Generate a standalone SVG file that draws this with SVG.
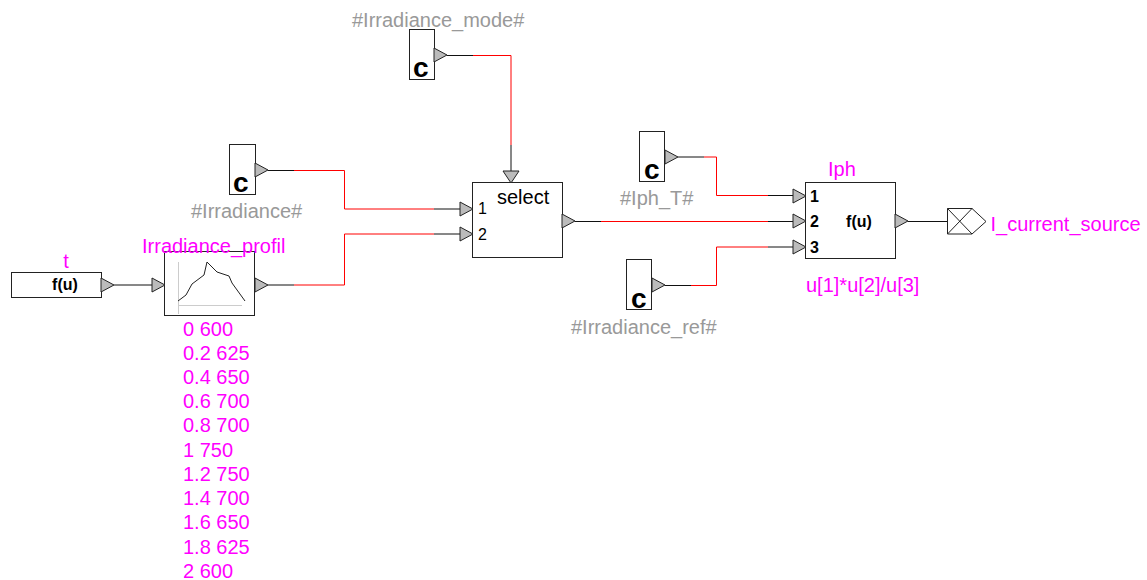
<svg xmlns="http://www.w3.org/2000/svg" width="1147" height="580" viewBox="0 0 1147 580">
<style>
text{font-family:"Liberation Sans",Arial,sans-serif}
.l{font-size:20px;fill:#ff00ff}
.g{font-size:20px;fill:#999999}
.c{font-size:28px;font-weight:bold;fill:#000}
.f{font-size:16px;font-weight:bold;fill:#000}
.n{font-size:16px;fill:#000}
.nb{font-size:16px;font-weight:bold;fill:#000}
.b{fill:#fff;stroke:#222;stroke-width:1}
.p{fill:#bbb;stroke:#222;stroke-width:1}
.k{fill:none;stroke:#111;stroke-width:1}
.r{fill:none;stroke:#f00;stroke-width:1}
</style>
<defs>
<polygon id="pr" class="p" points="0,-7 13,0 0,7"/>
<polygon id="pd" class="p" points="-8,0 8,0 0,12"/>
</defs>
<g id="connectors">
<path class="k" d="M268 170.500H294M434 209H460M268 285H294M434 234H460M114 285H152M447 55.500H473M511 145V171M575 221.500H601M768 221.500H793M678 157H704M768 195.500H793M665 285.500H691M768 247H793M908 221.500H947"/>
<path class="r" d="M294 170.500H344.500V209H434M294 285H344.500V234H434M473 55.500H511V145M601 221.500H768M704 157H716.500V195.500H768M691 285.500H716.500V247H768"/>
</g>
<g id="irradiance-mode">
<rect class="b" x="409.500" y="29.500" width="25" height="50"/>
<use href="#pr" x="434" y="55"/>
<text class="c" x="413" y="77">c</text>
<text class="g" x="352" y="27">#Irradiance_mode#</text>
</g>
<g id="irradiance">
<rect class="b" x="229.500" y="144.500" width="26" height="50"/>
<use href="#pr" x="255" y="170"/>
<text class="c" x="233" y="192">c</text>
<text class="g" x="191" y="218">#Irradiance#</text>
</g>
<g id="time">
<rect class="b" x="11.500" y="272.500" width="90" height="25"/>
<use href="#pr" x="101" y="285"/>
<text class="f" x="65" y="290" text-anchor="middle">f(u)</text>
<text class="l" x="66" y="268" text-anchor="middle">t</text>
</g>
<g id="irradiance-profil">
<rect class="b" x="164.500" y="251.500" width="90" height="64"/>
<use href="#pr" x="152" y="285"/>
<use href="#pr" x="255" y="285"/>
<path d="M178.500 262V314M178 305.500H242" fill="none" stroke="#ccc" stroke-width="1"/>
<path d="M178 301L186 295L192 284L204 275L207 262L217 272L229 276L232 283L245 301" fill="none" stroke="#222" stroke-width="1"/>
<text class="l" x="142" y="253">Irradiance_profil</text>
<text class="l" x="183" y="336">0 600</text>
<text class="l" x="183" y="360">0.2 625</text>
<text class="l" x="183" y="384">0.4 650</text>
<text class="l" x="183" y="408">0.6 700</text>
<text class="l" x="183" y="432">0.8 700</text>
<text class="l" x="183" y="457">1 750</text>
<text class="l" x="183" y="481">1.2 750</text>
<text class="l" x="183" y="505">1.4 700</text>
<text class="l" x="183" y="529">1.6 650</text>
<text class="l" x="183" y="554">1.8 625</text>
<text class="l" x="183" y="578">2 600</text>
</g>
<g id="select">
<rect class="b" x="472.500" y="182.500" width="90" height="75"/>
<use href="#pd" x="511" y="171"/>
<use href="#pr" x="460" y="209"/>
<use href="#pr" x="460" y="234"/>
<use href="#pr" x="562" y="221"/>
<text x="497" y="204" font-size="20" fill="#000">select</text>
<text class="n" x="478" y="214">1</text>
<text class="n" x="478" y="240">2</text>
</g>
<g id="iph-t">
<rect class="b" x="639.500" y="131.500" width="25" height="50"/>
<use href="#pr" x="665" y="157"/>
<text class="c" x="644" y="179">c</text>
<text class="g" x="620" y="205">#Iph_T#</text>
</g>
<g id="irradiance-ref">
<rect class="b" x="626.500" y="259.500" width="25" height="50"/>
<use href="#pr" x="652" y="285"/>
<text class="c" x="631" y="308">c</text>
<text class="g" x="571" y="334">#Irradiance_ref#</text>
</g>
<g id="iph">
<rect class="b" x="805.500" y="182.500" width="90" height="76"/>
<use href="#pr" x="793" y="196"/>
<use href="#pr" x="793" y="221"/>
<use href="#pr" x="793" y="247"/>
<use href="#pr" x="895" y="221"/>
<text class="nb" x="810" y="202">1</text>
<text class="nb" x="810" y="227">2</text>
<text class="nb" x="810" y="253">3</text>
<text class="f" x="859" y="227" text-anchor="middle">f(u)</text>
<text class="l" x="828" y="176">Iph</text>
<text class="l" x="806" y="292">u[1]*u[2]/u[3]</text>
</g>
<g id="i-current-source">
<path d="M947.500 208.500H972L986 221.500L972 234H947.500ZM947.500 208.500L972 234M947.500 234L972 208.500" fill="#fff" stroke="#222" stroke-width="1"/>
<text class="l" x="990.500" y="231">I_current_source</text>
</g>
</svg>
